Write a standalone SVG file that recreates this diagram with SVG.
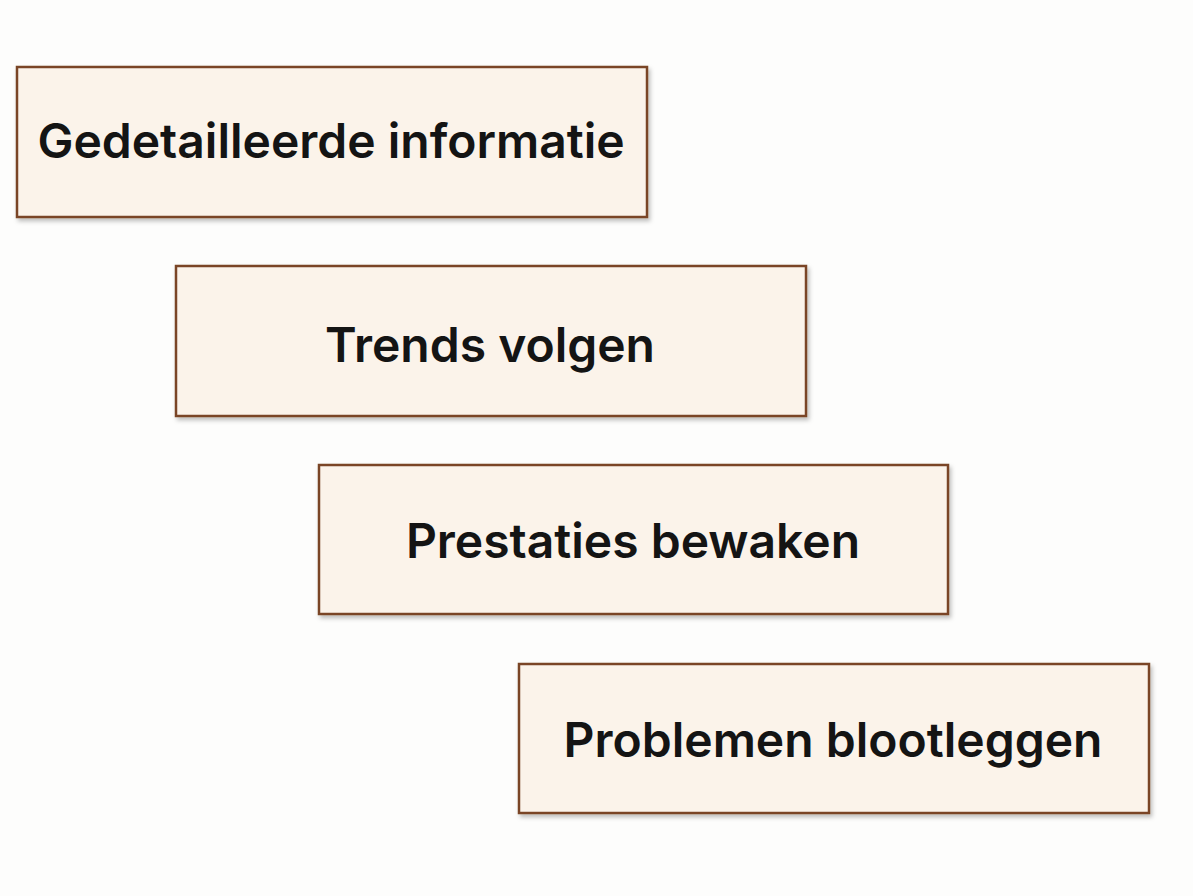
<svg xmlns="http://www.w3.org/2000/svg" width="1193" height="896" viewBox="0 0 1193 896">
<defs>
<filter id="sh" x="-5%" y="-10%" width="110%" height="125%">
<feDropShadow dx="2" dy="3" stdDeviation="2" flood-color="#000" flood-opacity="0.25"/>
</filter>
</defs>
<style>
.box{fill:#fbf3ea;stroke:#7a4528;stroke-width:2.5;filter:url(#sh)}
.lbl{font-family:Inter,"Liberation Sans",sans-serif;font-weight:600;font-size:48px;fill:#141414;text-anchor:middle}
</style>
<rect width="1193" height="896" fill="#fdfdfc"/>
<g id="connectors"></g>
<g id="n1"><rect class="box" x="17" y="67" width="630" height="150"/><text class="lbl" x="331" y="158">Gedetailleerde informatie</text></g>
<g id="n2"><rect class="box" x="176" y="266" width="630" height="150"/><text class="lbl" x="490" y="362">Trends volgen</text></g>
<g id="n3"><rect class="box" x="319" y="465" width="629" height="149"/><text class="lbl" x="633" y="558">Prestaties bewaken</text></g>
<g id="n4"><rect class="box" x="519" y="664" width="630" height="149"/><text class="lbl" x="833" y="757">Problemen blootleggen</text></g>
</svg>
